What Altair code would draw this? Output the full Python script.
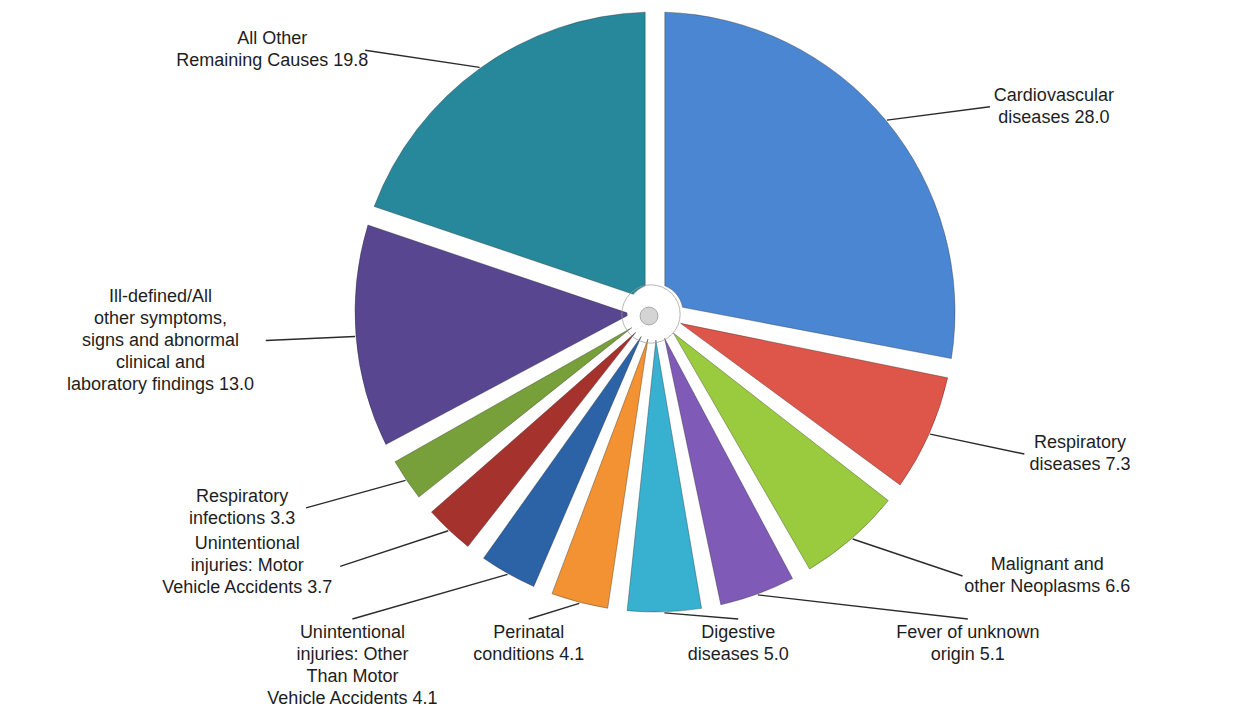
import altair as alt
import pandas as pd

# ---- data ----
name_lines = [
    ["Cardiovascular", "diseases"],
    ["Respiratory", "diseases"],
    ["Malignant and", "other Neoplasms"],
    ["Fever of unknown", "origin"],
    ["Digestive", "diseases"],
    ["Perinatal", "conditions"],
    ["Unintentional", "injuries: Other", "Than Motor", "Vehicle Accidents"],
    ["Unintentional", "injuries: Motor", "Vehicle Accidents"],
    ["Respiratory", "infections"],
    ["Ill-defined/All", "other symptoms,", "signs and abnormal", "clinical and", "laboratory findings"],
    ["All Other", "Remaining Causes"],
]
values = [28.0, 7.3, 6.6, 5.1, 5.0, 4.1, 4.1, 3.7, 3.3, 13.0, 19.8]
palette = ["#4B86D2", "#DE5549", "#9ACB3E", "#7F5AB6", "#38B0D0", "#F39232",
           "#2C62A6", "#A6322E", "#77A03A", "#594691", "#27889C"]

causes = [" ".join(l) for l in name_lines]
label_parts = [l[:-1] + [f"{l[-1]} {v:.1f}"] for l, v in zip(name_lines, values)]
labels = ["\n".join(p) for p in label_parts]
longest = [max(len(s) for s in p) for p in label_parts]   # text metadata for centring blocks

df = pd.DataFrame({"idx": list(range(len(values))), "cause": causes,
                   "value": values, "label": labels, "longest": longest})

# ---- layout constants (pixels, chart coordinates) ----
W, H = 1225, 703
CX, CY = 647, 304
R_OUT, R_IN = 300, 28
FS, LH = 18, 22
CHW = 0.46 * FS   # approx. average glyph width

base = (
    alt.Chart(df)
    .transform_joinaggregate(total="sum(value)")
    .transform_window(cum="sum(value)", sort=[alt.SortField("idx")], frame=[None, 0])
    .transform_calculate(ang="2*PI*(datum.cum - datum.value/2)/datum.total",
                         nl="length(split(datum.label, '\\n'))")
    .transform_calculate(s="sin(datum.ang)", c="cos(datum.ang)",
                         hw=f"datum.longest*{CHW}/2")
    .transform_calculate(
        side="datum.s > 0.55 ? 'right' : (datum.s < -0.55 ? 'left' : 'bottom')",
        sg="datum.s > 0 ? 1 : -1",
        sx=f"{CX} + {R_OUT + 1}*datum.s",
        sy=f"{CY} - {R_OUT + 1}*datum.c",
    )
    .transform_calculate(
        ex=f"datum.side == 'bottom' ? {CX} + 60 + 740*datum.s : {CX} + datum.sg*(150 + 240*abs(datum.s))",
        ly=f"datum.side == 'bottom' ? {CY} + 312 : (datum.c > 0 ? {CY} - 322*datum.c : {CY} - 350*datum.c)",
    )
    .transform_calculate(
        tx="datum.side == 'bottom' ? datum.ex : datum.ex + datum.sg*(datum.hw + 6)",
        ty=f"datum.side == 'bottom' ? datum.ly : datum.ly - (datum.nl - 1)*{LH}/2",
        ey="datum.side == 'bottom' ? datum.ly - 5 : datum.ly",
    )
)

pie = base.mark_arc(outerRadius=R_OUT, innerRadius=R_IN, padAngle=0.065,
                    stroke="#222", strokeOpacity=0.35, strokeWidth=1).encode(
    theta=alt.Theta("value:Q", stack=True),
    order=alt.Order("idx:Q"),
    color=alt.Color("cause:N", scale=alt.Scale(domain=causes, range=palette), legend=None),
    x=alt.value(CX),
    y=alt.value(CY),
)

ring = base.transform_filter("datum.idx == 0").mark_point(
    shape="circle", filled=False, size=3400, stroke="#9a9a9a", strokeWidth=1
).encode(x=alt.value(CX - 4), y=alt.value(CY + 2))

dot = base.transform_filter("datum.idx == 0").mark_point(
    shape="circle", filled=True, size=320, fill="#d4d4d4", stroke="#a8a8a8",
    strokeWidth=1, opacity=1
).encode(x=alt.value(CX - 6), y=alt.value(CY + 4))

leaders = base.mark_rule(color="#2b2b2b", strokeWidth=1.4).encode(
    x=alt.X("sx:Q", scale=None, axis=None),
    y=alt.Y("sy:Q", scale=None, axis=None),
    x2="ex:Q",
    y2="ey:Q",
)

txt = dict(fontSize=FS, font="Liberation Sans", lineBreak="\n", lineHeight=LH,
           color="#1e1e1e", align="center")
enc = dict(x=alt.X("tx:Q", scale=None, axis=None), y=alt.Y("ty:Q", scale=None, axis=None),
           text="label:N")

lab_side = base.transform_filter("datum.side != 'bottom'").mark_text(baseline="middle", **txt).encode(**enc)
lab_bot = base.transform_filter("datum.side == 'bottom'").mark_text(baseline="top", **txt).encode(**enc)

chart = (
    alt.layer(pie, ring, dot, leaders, lab_side, lab_bot)
    .properties(width=W, height=H, padding=0, autosize="none", background="white")
    .configure_view(stroke=None)
)

chart.save("out.html", embed_options={"renderer": "svg", "actions": False})
